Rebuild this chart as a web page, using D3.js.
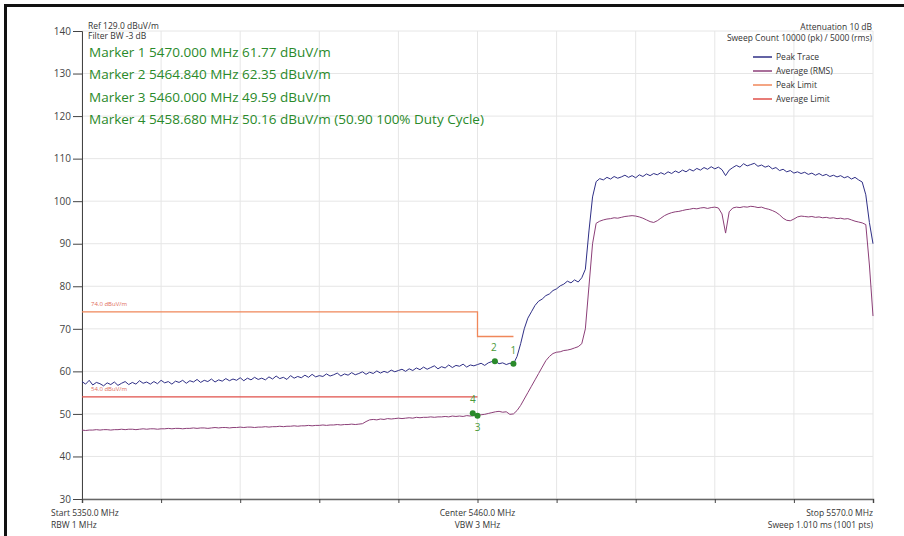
<!DOCTYPE html>
<html>
<head>
<meta charset="utf-8">
<script src="https://cdn.jsdelivr.net/npm/d3@7"></script>
<style>
  body { margin: 0; background: #fff; }
  svg { display: block; font-family: "Open Sans", "Noto Sans", sans-serif; }
</style>
</head>
<body>
<svg id="chart" width="904" height="536"></svg>
<script>
// frequency axis, 1 MHz steps (MHz)
const freqs = d3.range(5350, 5571, 1);

// peak trace (dBuV/m), one value per MHz
const peakTrace = [
  57.6, 57.0, 57.9, 56.8, 57.4, 57.1, 56.6, 57.3, 56.9, 57.5,
  56.7, 57.2, 57.6, 56.9, 57.4, 57.0, 57.8, 57.2, 57.5, 57.0,
  57.6, 57.1, 57.9, 57.3, 57.6, 57.0, 57.7, 57.4, 57.9, 57.2,
  57.8, 57.5, 58.1, 57.4, 57.9, 57.6, 58.2, 57.5, 58.0, 57.7,
  58.3, 57.8, 58.2, 57.9, 58.5, 57.8, 58.4, 58.0, 58.6, 58.1,
  58.4, 58.0, 58.7, 58.2, 58.9, 58.3, 58.6, 58.1, 59.0, 58.4,
  58.8, 58.5, 59.1, 58.6, 59.3, 58.7, 59.0, 58.8, 59.4, 58.9,
  59.2, 59.6, 58.9, 59.4, 59.1, 59.7, 59.2, 59.5, 59.9, 59.3,
  59.8, 59.5, 60.1, 59.6, 60.0, 59.7, 60.3, 59.9, 60.2, 60.5,
  60.0, 60.6, 60.2, 60.8, 60.4, 61.0, 60.5, 60.9, 61.3, 60.6,
  61.1, 60.8, 61.5, 60.9, 61.4, 61.2, 61.7, 61.0, 61.5, 61.3,
  61.6, 61.9, 61.4, 62.0, 62.3, 62.35, 61.8, 62.0, 61.6, 61.9,
  61.77, 63.5, 66.5, 70.0, 72.5, 74.0, 75.5, 76.5, 77.0, 77.8,
  78.2, 79.0, 79.4, 80.1, 80.5, 81.2, 80.8, 81.5, 81.0, 82.0,
  84.0, 93.0, 101.0, 104.6, 105.3, 105.0, 105.6, 105.2, 105.8, 105.4,
  105.7, 106.1, 105.6, 106.0, 105.5, 106.2, 105.8, 106.4, 106.0, 106.5,
  106.2, 106.7, 106.3, 106.9, 106.5, 107.1, 106.7, 107.3, 106.9, 107.5,
  107.1, 107.7, 107.3, 107.9, 107.5, 108.1, 107.6, 108.0, 107.4, 106.0,
  107.3, 107.9, 108.4, 108.0, 108.8, 108.3, 108.6, 108.9, 108.2, 108.5,
  108.0, 108.3, 107.6, 107.9, 107.2, 107.5, 106.9, 107.2, 106.6, 106.9,
  106.5, 106.8, 106.3, 106.6, 106.1, 106.5, 106.0, 106.3, 105.8, 106.1,
  105.7, 106.0, 105.5, 105.8, 105.2, 105.6, 105.0, 104.5, 101.5, 95.0,
  90.0
];

// average (RMS) trace (dBuV/m)
const avgTrace = [
  46.2, 46.1, 46.2, 46.2, 46.3, 46.2, 46.3, 46.3, 46.2, 46.3,
  46.3, 46.4, 46.3, 46.4, 46.4, 46.3, 46.4, 46.5, 46.4, 46.5,
  46.5, 46.4, 46.5, 46.5, 46.6, 46.5, 46.6, 46.6, 46.5, 46.6,
  46.6, 46.7, 46.6, 46.7, 46.7, 46.6, 46.7, 46.8, 46.7, 46.8,
  46.8, 46.7, 46.8, 46.8, 46.9, 46.8, 46.9, 46.9, 46.8, 46.9,
  46.9, 47.0, 46.9, 47.0, 47.0, 47.1, 47.0, 47.1, 47.1, 47.2,
  47.1, 47.2, 47.2, 47.3, 47.2, 47.3, 47.3, 47.4, 47.3, 47.4,
  47.4, 47.5, 47.4, 47.5, 47.5, 47.6, 47.5, 47.6, 47.7, 48.2,
  48.6, 48.7, 48.6, 48.8, 48.7, 48.9, 48.8, 48.9, 49.0, 48.9,
  49.0, 49.1, 49.0, 49.2, 49.1, 49.2, 49.2, 49.3, 49.2, 49.3,
  49.3, 49.4, 49.3, 49.5, 49.4, 49.5, 49.4, 49.6, 49.5, 49.6,
  49.59, 49.8, 49.9, 50.1, 50.3, 50.5, 50.6, 50.4, 50.5, 49.9,
  50.0, 50.8, 52.0, 53.5, 55.0, 56.5, 58.0, 59.5, 61.0, 62.5,
  63.5, 64.2, 64.5, 64.6, 64.9, 65.0, 65.2, 65.5, 65.8, 66.5,
  70.0, 80.0, 90.0, 94.8, 95.3, 95.6, 95.8, 95.9, 96.1, 96.0,
  96.2, 96.4, 96.5, 96.6, 96.5, 96.3, 96.0, 95.6, 95.2, 95.0,
  95.4, 96.0, 96.6, 97.0, 97.3, 97.5, 97.6, 97.8, 98.0, 98.1,
  98.3, 98.2, 98.4, 98.5, 98.3, 98.5, 98.6, 98.4, 97.0, 92.5,
  97.5, 98.4, 98.6, 98.5, 98.7, 98.6, 98.8, 98.7, 98.5, 98.6,
  98.3, 98.1, 97.8, 97.4, 96.8, 96.0, 95.5, 95.4, 95.8, 96.3,
  96.5, 96.4, 96.3, 96.4, 96.2, 96.3, 96.1, 96.2, 96.0, 96.1,
  95.9, 96.0, 95.8, 95.9, 95.6, 95.3, 95.1, 94.9, 94.5, 85.0,
  73.0
];

// limit lines: [start MHz, end MHz, level]
const peakLimit = [[5350, 5460, 74.0], [5460, 5470, 68.2]];
const avgLimit = [[5350, 5460, 54.0]];

// markers
const markerIds = ["1", "2", "3", "4"];
const markerFreqs = [5470.000, 5464.840, 5460.000, 5458.680];
const markerLevels = [61.77, 62.35, 49.59, 50.16];
const markerText = [
  "Marker 1 5470.000 MHz 61.77 dBuV/m",
  "Marker 2 5464.840 MHz 62.35 dBuV/m",
  "Marker 3 5460.000 MHz 49.59 dBuV/m",
  "Marker 4 5458.680 MHz 50.16 dBuV/m (50.90 100% Duty Cycle)"
];

const yTicks = d3.range(30, 141, 10);
const xTicks = d3.range(5350, 5571, 22);
const legendNames = ["Peak Trace", "Average (RMS)", "Peak Limit", "Average Limit"];

const colPeak = "#2f2f86";
const colAvg = "#8c3f78";
const colPeakLim = "#f0875a";
const colAvgLim = "#e0504a";
const colMarker = "#2a8a2a";

const svg = d3.select("#chart");

const x = d3.scaleLinear().domain([5350, 5570]).range([82, 873]);
const y = d3.scaleLinear().domain([30, 140]).range([499, 31]);

// frame (top + left edges of the screenshot box)
svg.append("line").attr("x1", 5).attr("y1", 5.5).attr("x2", 904).attr("y2", 5.5)
  .attr("stroke", "#111").attr("stroke-width", 3);
svg.append("line").attr("x1", 5.5).attr("y1", 4).attr("x2", 5.5).attr("y2", 536)
  .attr("stroke", "#111").attr("stroke-width", 3);

// grid
svg.append("g").selectAll("line").data(yTicks).join("line")
  .attr("x1", 82).attr("x2", 873)
  .attr("y1", d => y(d)).attr("y2", d => y(d))
  .attr("stroke", "#e6e6e6").attr("stroke-width", 1);
svg.append("g").selectAll("line").data(xTicks).join("line")
  .attr("x1", d => x(d)).attr("x2", d => x(d))
  .attr("y1", y(140)).attr("y2", y(30))
  .attr("stroke", "#e6e6e6").attr("stroke-width", 1);

// axes
const yAxis = svg.append("g")
  .attr("transform", "translate(82,0)")
  .call(d3.axisLeft(y).tickValues(yTicks).tickSize(9).tickPadding(2).tickFormat(d3.format("d")));
yAxis.select(".domain").attr("stroke", "#444");
yAxis.selectAll(".tick line").attr("stroke", "#444");
yAxis.selectAll("text").attr("fill", "#444").style("font-size", "10px")
  .style("font-family", "'Open Sans', sans-serif");

const xAxis = svg.append("g")
  .attr("transform", "translate(0,499)")
  .call(d3.axisBottom(x).tickValues(xTicks).tickSize(4).tickFormat(""));
xAxis.select(".domain").attr("stroke", "#666").attr("stroke-width", 1.5);
xAxis.selectAll(".tick line").attr("stroke", "#444");

// limit lines
const limG = svg.append("g");
function drawLimit(segs, col) {
  const pts = [];
  segs.forEach(s => { pts.push([s[0], s[2]]); pts.push([s[1], s[2]]); });
  limG.append("path")
    .attr("d", d3.line().x(d => x(d[0])).y(d => y(d[1]))(pts))
    .attr("fill", "none").attr("stroke", col).attr("stroke-width", 1.3);
}
drawLimit(peakLimit, colPeakLim);
drawLimit(avgLimit, colAvgLim);
limG.append("text").attr("x", 91).attr("y", y(peakLimit[0][2]) - 6)
  .attr("fill", "#e06a5a").style("font-size", "6px").text(peakLimit[0][2].toFixed(1) + " dBuV/m");
limG.append("text").attr("x", 91).attr("y", y(avgLimit[0][2]) - 6)
  .attr("fill", "#e06a5a").style("font-size", "6px").text(avgLimit[0][2].toFixed(1) + " dBuV/m");

// traces
const line = d3.line().x((d, i) => x(freqs[i])).y(d => y(d));
svg.append("path").attr("d", line(avgTrace))
  .attr("fill", "none").attr("stroke", colAvg).attr("stroke-width", 1);
svg.append("path").attr("d", line(peakTrace))
  .attr("fill", "none").attr("stroke", colPeak).attr("stroke-width", 1);

// markers
const mk = svg.append("g");
mk.selectAll("circle").data(markerIds).join("circle")
  .attr("cx", (d, i) => x(markerFreqs[i]))
  .attr("cy", (d, i) => y(markerLevels[i]))
  .attr("r", 3).attr("fill", colMarker);
mk.selectAll("text").data(markerIds).join("text")
  .attr("x", (d, i) => x(markerFreqs[i]) + (d === "2" ? -1 : 0))
  .attr("y", (d, i) => d === "3" ? y(markerLevels[i]) + 15 : y(markerLevels[i]) - 10)
  .attr("text-anchor", "middle")
  .attr("fill", "#4a9a3a").style("font-size", "10px").text(d => d);

// top-left header
svg.append("text").attr("x", 88).attr("y", 29).attr("fill", "#333")
  .style("font-size", "8.5px").text("Ref 129.0 dBuV/m");
svg.append("text").attr("x", 88).attr("y", 39).attr("fill", "#333")
  .style("font-size", "8.5px").text("Filter BW -3 dB");
svg.append("g").selectAll("text").data(markerText).join("text")
  .attr("x", 89).attr("y", (d, i) => 57 + i * 22.3)
  .attr("fill", colMarker).style("font-size", "13.5px").text(d => d);

// top-right header
svg.append("text").attr("x", 872).attr("y", 30).attr("text-anchor", "end").attr("fill", "#333")
  .style("font-size", "8.5px").text("Attenuation 10 dB");
svg.append("text").attr("x", 872).attr("y", 41).attr("text-anchor", "end").attr("fill", "#333")
  .style("font-size", "8.5px").text("Sweep Count 10000 (pk) / 5000 (rms)");

// legend
const legCols = [colPeak, colAvg, colPeakLim, colAvgLim];
const leg = svg.append("g").selectAll("g").data(legendNames).join("g")
  .attr("transform", (d, i) => "translate(753," + (57 + i * 14) + ")");
leg.append("line").attr("x1", 0).attr("x2", 19).attr("y1", 0).attr("y2", 0)
  .attr("stroke", (d, i) => legCols[i]).attr("stroke-width", 1.5);
leg.append("text").attr("x", 23).attr("y", 3).attr("fill", "#333")
  .style("font-size", "8.5px").text(d => d);

// bottom labels
const bot = [
  ["Start 5350.0 MHz", "RBW 1 MHz", 51, "start"],
  ["Center 5460.0 MHz", "VBW 3 MHz", x(5460), "middle"],
  ["Stop 5570.0 MHz", "Sweep 1.010 ms (1001 pts)", 873, "end"]
];
bot.forEach(b => {
  svg.append("text").attr("x", b[2]).attr("y", 516).attr("text-anchor", b[3])
    .attr("fill", "#333").style("font-size", "8.5px").text(b[0]);
  svg.append("text").attr("x", b[2]).attr("y", 528).attr("text-anchor", b[3])
    .attr("fill", "#333").style("font-size", "8.5px").text(b[1]);
});
</script>
</body>
</html>
